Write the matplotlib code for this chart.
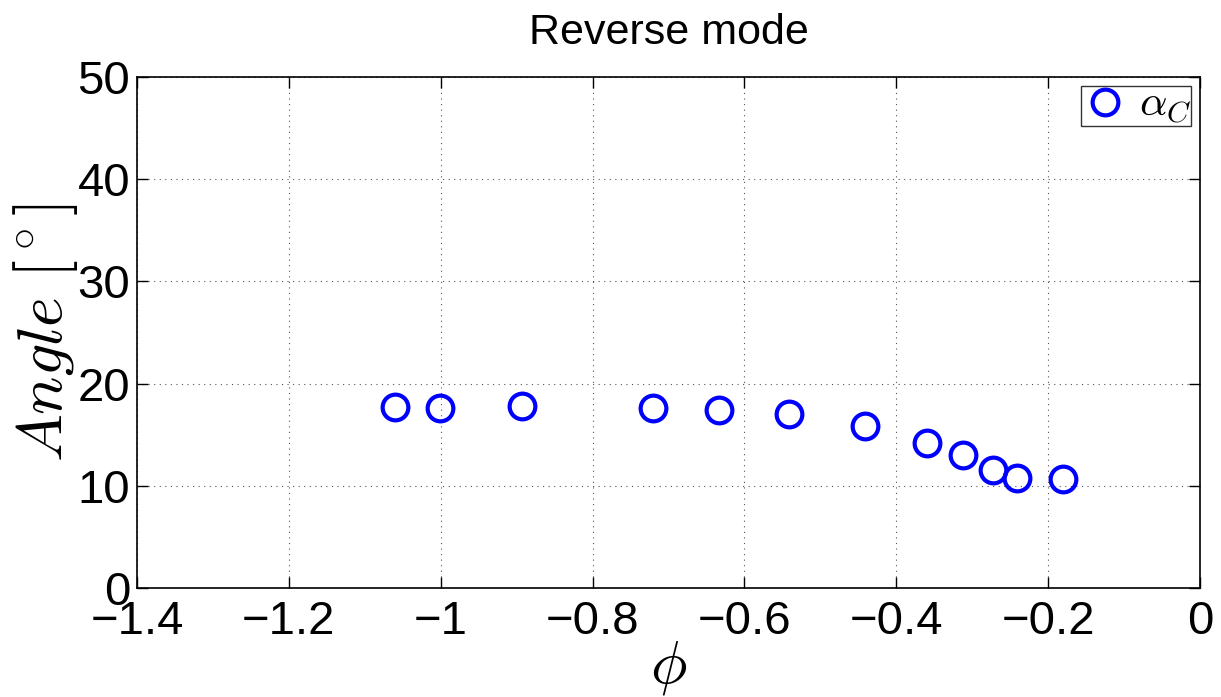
import matplotlib
matplotlib.use("Agg")
import matplotlib.pyplot as plt

# Ângulo alpha_C em função do coeficiente de caudal (modo reverso)
phi = [-1.060, -1.001, -0.893, -0.721, -0.633, -0.541, -0.441, -0.359, -0.312, -0.272, -0.241, -0.180]
alpha_c = [17.7, 17.6, 17.8, 17.6, 17.4, 17.0, 15.9, 14.2, 13.0, 11.5, 10.8, 10.7]

plt.rcParams["font.family"] = ["Liberation Sans", "DejaVu Sans"]
plt.rcParams["mathtext.fontset"] = "cm"

fig = plt.figure(figsize=(12.21, 6.97), dpi=100)
ax = fig.add_axes([137 / 1221, 1 - 588 / 697, (1200 - 137) / 1221, (588 - 77) / 697])

ax.plot(phi, alpha_c, linestyle="none", marker="o", markersize=18.5,
        markerfacecolor="none", markeredgecolor="#0000ff", markeredgewidth=3.0,
        label=r"$\alpha_C$")

ax.set_xlim(-1.4, 0)
ax.set_ylim(0, 50)
ax.set_xticks([-1.4, -1.2, -1, -0.8, -0.6, -0.4, -0.2, 0])
ax.set_xticklabels(["\u22121.4", "\u22121.2", "\u22121", "\u22120.8", "\u22120.6",
                    "\u22120.4", "\u22120.2", "0"])
ax.set_yticks([0, 10, 20, 30, 40, 50])

ax.tick_params(direction="in", length=8, width=1, labelsize=34, pad=5,
               top=True, right=True)
ax.tick_params(axis="x", pad=9)
ax.grid(True, linestyle=(0, (1, 4)), color="#555555", linewidth=0.8)
for s in ax.spines.values():
    s.set_linewidth(1.2)

ax.set_title("Reverse mode", fontsize=31, pad=24)
ax.set_xlabel(r"$\phi$", fontsize=44, labelpad=-4)
ax.set_ylabel(r"$Angle\ [^\circ]$", fontsize=46, labelpad=-2)

leg = ax.legend(loc="upper right", fontsize=31, frameon=True, fancybox=False,
                edgecolor="black", borderpad=0.0, handlelength=1.1,
                handletextpad=0.25, borderaxespad=0.2, markerscale=1.0)
leg.get_frame().set_linewidth(1.0)

fig.savefig("out.png", dpi=100)
